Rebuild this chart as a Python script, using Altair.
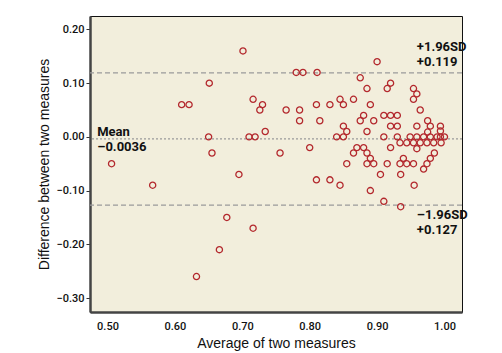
import altair as alt
import pandas as pd

avg = [0.506, 0.567, 0.610, 0.621, 0.632, 0.650, 0.651, 0.655, 0.666, 0.677,
       0.695, 0.701, 0.710, 0.716, 0.716, 0.719, 0.726, 0.730, 0.734, 0.756,
       0.765, 0.780, 0.785, 0.785, 0.790, 0.800, 0.810, 0.811, 0.810, 0.815,
       0.830, 0.830, 0.840, 0.845, 0.845, 0.850, 0.850, 0.850, 0.855, 0.855,
       0.865, 0.865, 0.870, 0.875, 0.875, 0.880, 0.880, 0.885, 0.885, 0.885,
       0.885, 0.890, 0.890, 0.890, 0.895, 0.895, 0.900, 0.905, 0.910, 0.910,
       0.910, 0.915, 0.915, 0.920, 0.920, 0.920, 0.920, 0.930, 0.930, 0.930,
       0.934, 0.934, 0.935, 0.935, 0.939, 0.944, 0.944, 0.949, 0.954, 0.954,
       0.954, 0.954, 0.955, 0.959, 0.959, 0.959, 0.959, 0.964, 0.964, 0.969,
       0.969, 0.974, 0.974, 0.975, 0.975, 0.979, 0.979, 0.979, 0.984, 0.985,
       0.989, 0.994, 0.994, 0.994, 0.995, 1.000]
diff = [-0.05, -0.09, 0.06, 0.06, -0.26, 0.00, 0.10, -0.03, -0.21, -0.15,
        -0.07, 0.16, 0.00, 0.07, -0.17, 0.00, 0.05, 0.06, 0.01, -0.03,
        0.05, 0.12, 0.05, 0.03, 0.12, -0.02, 0.06, 0.12, -0.08, 0.03,
        0.06, -0.08, 0.00, 0.07, -0.09, 0.06, 0.02, 0.00, 0.01, -0.05,
        0.07, -0.03, -0.02, 0.11, 0.03, 0.04, -0.02, 0.09, 0.01, -0.03,
        -0.05, 0.06, -0.04, -0.10, 0.03, -0.05, 0.14, -0.07, 0.04, 0.00,
        -0.12, 0.09, -0.05, 0.10, 0.04, 0.02, -0.02, 0.04, 0.02, 0.00,
        -0.011, -0.05, -0.07, -0.13, -0.04, -0.011, -0.05, 0.00, 0.09, 0.07,
        -0.011, -0.05, -0.09, 0.08, 0.02, 0.00, -0.022, 0.05, -0.011, 0.00,
        -0.06, -0.011, -0.05, 0.03, 0.009, 0.02, 0.00, -0.04, -0.011, -0.03,
        0.00, 0.02, 0.011, 0.00, -0.011, 0.00]

line_names = ["mean", "upper", "lower"]
line_values = [-0.0036, 0.119, -0.127]
label_texts = ["Mean\n\u20130.0036", "+1.96SD\n+0.119", "\u20131.96SD\n+0.127"]
label_x = [0.4847, 0.959, 0.959]

x_ticks = [0.5, 0.6, 0.7, 0.8, 0.9, 1.0]
y_ticks = [0.2, 0.1, 0.0, -0.1, -0.2, -0.3]

pts = pd.DataFrame({"avg": avg, "diff": diff})
lines = pd.DataFrame({"name": line_names, "value": line_values})
labels = pd.DataFrame({"name": line_names, "text": label_texts,
                       "x": label_x, "value": line_values})

tick_font = "Roboto, DejaVu Sans Condensed, sans-serif"
title_font = "Liberation Sans, Arial, sans-serif"

xs = alt.Scale(domain=[0.474, 1.026], nice=False, zero=False)
ys = alt.Scale(domain=[-0.326, 0.225], nice=False, zero=False)

points = alt.Chart(pts).mark_point(
    shape="circle", filled=False, size=38, color="#b3282d", strokeWidth=1.3, opacity=1
).encode(
    x=alt.X("avg:Q", scale=xs, title="Average of two measures",
            axis=alt.Axis(values=x_ticks, format=".2f", ticks=False, labelPadding=8,
                          domainColor="#444", domainWidth=2.5, grid=False,
                          labelFont=tick_font, labelFontSize=11, labelFontWeight=500,
                          labelColor="#111",
                          titleFont=title_font, titleFontSize=14, titleFontWeight="normal",
                          titleColor="#111", titlePadding=5)),
    y=alt.Y("diff:Q", scale=ys, title="Difference between two measures",
            axis=alt.Axis(values=y_ticks, format=".2f", tickSize=4, tickColor="#333",
                          labelPadding=2, domainColor="#444", domainWidth=2.5, grid=False,
                          labelFont=tick_font, labelFontSize=11, labelFontWeight=500,
                          labelColor="#111",
                          titleFont=title_font, titleFontSize=14, titleFontWeight="normal",
                          titleColor="#111", titleX=-39, titleY=148)),
)

mean_rule = alt.Chart(lines).transform_filter(alt.datum.name == "mean").mark_rule(
    color="#9a9a9a", strokeWidth=1.2, strokeDash=[2, 2]
).encode(y=alt.Y("value:Q", scale=ys))

sd_rules = alt.Chart(lines).transform_filter(alt.datum.name != "mean").mark_rule(
    color="#9a9a9a", strokeWidth=1.2, strokeDash=[5, 3]
).encode(y=alt.Y("value:Q", scale=ys))

text_common = dict(align="left", font=tick_font, fontSize=13, fontWeight="bold",
                   color="#111", lineHeight=15, lineBreak="\n")

mean_text = alt.Chart(labels).transform_filter(alt.datum.name == "mean").mark_text(
    baseline="middle", dy=-6.5, **text_common
).encode(x=alt.X("x:Q", scale=xs), y=alt.Y("value:Q", scale=ys), text="text:N")

upper_text = alt.Chart(labels).transform_filter(alt.datum.name == "upper").mark_text(
    baseline="bottom", dy=-19, **text_common
).encode(x=alt.X("x:Q", scale=xs), y=alt.Y("value:Q", scale=ys), text="text:N")

lower_text = alt.Chart(labels).transform_filter(alt.datum.name == "lower").mark_text(
    baseline="top", dy=4, **text_common
).encode(x=alt.X("x:Q", scale=xs), y=alt.Y("value:Q", scale=ys), text="text:N")

chart = alt.layer(mean_rule, sd_rules, points, mean_text, upper_text, lower_text).properties(
    width=372, height=296,
    autosize=alt.AutoSizeParams(type="none"),
    padding={"left": 90, "top": 16, "right": 40, "bottom": 41},
    background="white",
).configure_view(
    fill="#f2eedc", stroke="#111", strokeWidth=1
)

chart.save("out.html", embed_options={"renderer": "svg", "actions": False})
